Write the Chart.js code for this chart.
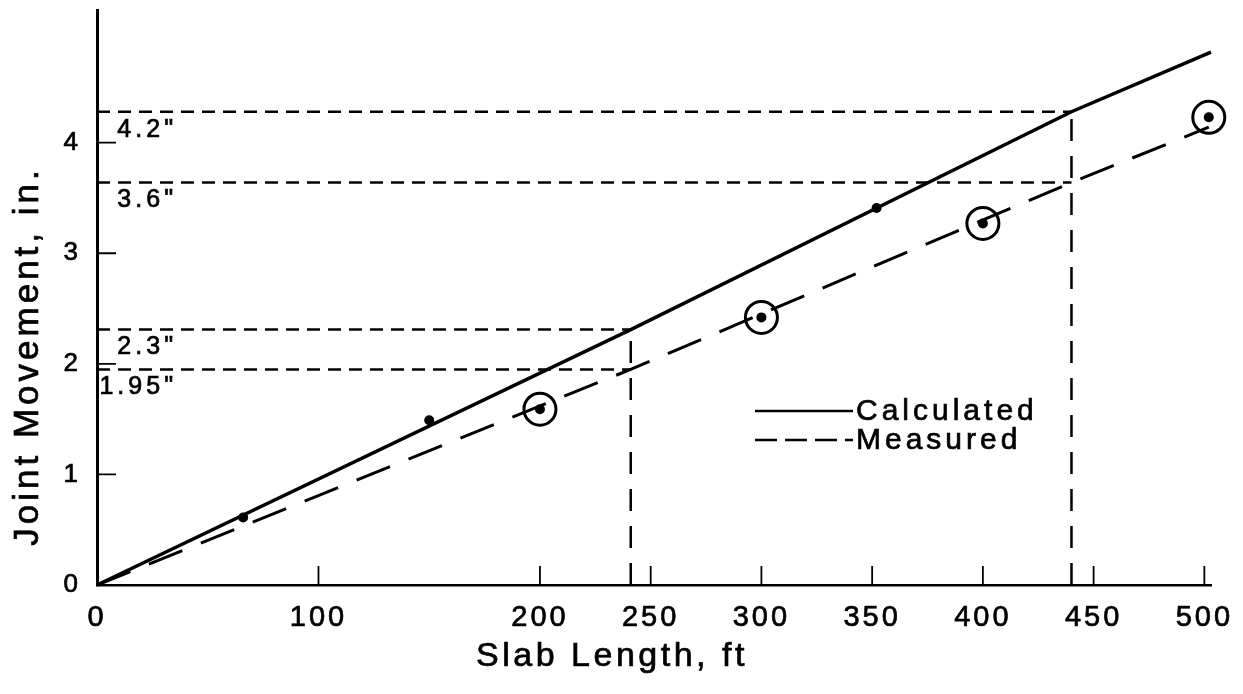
<!DOCTYPE html>
<html>
<head>
<meta charset="utf-8">
<script src="https://cdn.jsdelivr.net/npm/chart.js@4/dist/chart.umd.min.js"></script>
<style>
    html, body { margin: 0; padding: 0; background: #fff; }
</style>
</head>
<body>
<canvas id="jointChart" width="1243" height="694"></canvas>
<script>
const xTicks = [0, 100, 200, 250, 300, 350, 400, 450, 500];
const yTicks = [0, 1, 2, 3, 4];

// lines: slab length (ft) / joint movement (in.)
const calcLength = [0, 241, 440, 503];
const calcMove = [0, 2.31, 4.28, 4.82];
const measLength = [0, 241, 440, 502];
const measMove = [0, 1.95, 3.64, 4.14];

// measured points
const dotLength = [66, 150, 352];
const dotMove = [0.61, 1.49, 3.41];
const ringLength = [200, 300, 400, 502];
const ringMove = [1.59, 2.42, 3.27, 4.23];

// read-off guides
const guideMove = [4.28, 3.64, 2.31, 1.95];
const guideLength = [440, 440, 241, 241];
const guideLabels = ['4.2"', '3.6"', '2.3"', '1.95"'];

const FONT = "'Liberation Sans', Arial, sans-serif";
Chart.defaults.font.family = FONT;
Chart.defaults.color = '#000';

const pts = (xs, ys) => xs.map((v, i) => ({ x: v, y: ys[i] }));

const datasets = [
    {
        label: 'Calculated',
        data: pts(calcLength, calcMove),
        borderColor: '#000', borderWidth: 3.5, pointRadius: 0, clip: false
    },
    {
        label: 'Measured',
        data: pts(measLength, measMove),
        borderColor: '#000', borderWidth: 3, borderDash: [36, 20], pointRadius: 0, clip: false
    },
    {
        label: 'points',
        data: pts(dotLength.concat(ringLength), dotMove.concat(ringMove)),
        showLine: false, pointRadius: 5, pointBackgroundColor: '#000', pointBorderWidth: 0, clip: false
    },
    {
        label: 'rings',
        data: pts(ringLength, ringMove),
        showLine: false, pointRadius: 16, pointBorderColor: '#000', pointBorderWidth: 3,
        pointBackgroundColor: 'rgba(0,0,0,0)', clip: false
    }
];

// horizontal guides (short dashes) and vertical guides (longer dashes)
guideMove.forEach((m, i) => {
    datasets.push({
        label: 'h' + i,
        data: [{ x: 0, y: m }, { x: guideLength[i], y: m }],
        borderColor: '#000', borderWidth: 2.5, borderDash: [13, 8], pointRadius: 0
    });
});
[0, 2].forEach(i => {
    datasets.push({
        label: 'v' + i,
        data: [{ x: guideLength[i], y: 0 }, { x: guideLength[i], y: guideMove[i] }],
        borderColor: '#000', borderWidth: 2.5, borderDash: [22, 15], pointRadius: 0
    });
});

const legendItems = [
    { label: 'Calculated', dash: [] },
    { label: 'Measured', dash: [22, 8] }
];

function heavyText(ctx, text, px, py) {
    ctx.fillText(text, px, py);
    ctx.strokeText(text, px, py);
}

const paperPlugin = {
    id: 'paper',
    beforeLayout(chart) { chart.ctx.letterSpacing = '3px'; },
    beforeDraw(chart) { chart.ctx.letterSpacing = '3px'; },
    afterDraw(chart) {
        const { ctx, chartArea, scales } = chart;
        const x = scales.x, y = scales.y;
        ctx.save();
        ctx.strokeStyle = '#000';
        ctx.fillStyle = '#000';

        // inward tick marks
        ctx.lineWidth = 1.8;
        ctx.setLineDash([]);
        ctx.beginPath();
        x.ticks.forEach(t => {
            if (t.value === 0) return;
            const px = x.getPixelForValue(t.value);
            ctx.moveTo(px, chartArea.bottom);
            ctx.lineTo(px, chartArea.bottom - 19);
        });
        y.ticks.forEach(t => {
            if (t.value === 0) return;
            const py = y.getPixelForValue(t.value);
            ctx.moveTo(chartArea.left, py);
            ctx.lineTo(chartArea.left + 19, py);
        });
        ctx.stroke();

        ctx.lineWidth = 0.7;

        // guide labels
        ctx.letterSpacing = '4px';
        ctx.font = '25px ' + FONT;
        ctx.textAlign = 'right';
        ctx.textBaseline = 'middle';
        guideMove.forEach((m, i) => {
            heavyText(ctx, guideLabels[i], chartArea.left + 80, y.getPixelForValue(m) + 18);
        });

        // legend
        ctx.font = '30px ' + FONT;
        ctx.textAlign = 'left';
        legendItems.forEach((item, i) => {
            const ly = 411 + i * 29;
            ctx.lineWidth = 2.5;
            ctx.setLineDash(item.dash);
            ctx.beginPath();
            ctx.moveTo(755, ly);
            ctx.lineTo(853, ly);
            ctx.stroke();
            ctx.setLineDash([]);
            ctx.lineWidth = 0.7;
            heavyText(ctx, item.label, 856, ly + 1);
        });

        // axis titles
        ctx.letterSpacing = '3.5px';
        ctx.font = '34px ' + FONT;
        ctx.textAlign = 'center';
        heavyText(ctx, 'Slab Length, ft', 612, 657);
        ctx.letterSpacing = '4px';
        ctx.font = '35px ' + FONT;
        ctx.translate(28, 356);
        ctx.rotate(-Math.PI / 2);
        heavyText(ctx, 'Joint Movement, in.', 0, 0);
        ctx.restore();
    }
};

new Chart(document.getElementById('jointChart'), {
    type: 'line',
    data: { datasets: datasets },
    options: {
        responsive: false,
        animation: false,
        events: [],
        layout: { autoPadding: false, padding: { left: 0, top: 10, right: 32, bottom: 0 } },
        plugins: { legend: { display: false }, tooltip: { enabled: false } },
        scales: {
            x: {
                type: 'linear',
                min: 0,
                max: 503,
                grid: { display: false },
                border: { display: true, color: '#000', width: 2.5 },
                afterBuildTicks: s => { s.ticks = xTicks.map(v => ({ value: v })); },
                afterFit: s => { s.height = 109; s.paddingLeft = 0; s.paddingRight = 0; },
                ticks: {
                    font: { size: 29 }, padding: 8, maxRotation: 0, autoSkip: false, color: '#000',
                    textStrokeColor: '#000', textStrokeWidth: 0.7
                }
            },
            y: {
                type: 'linear',
                min: 0,
                max: 5.2,
                grid: { display: false },
                border: { display: true, color: '#000', width: 3 },
                afterBuildTicks: s => { s.ticks = yTicks.map(v => ({ value: v })); },
                afterFit: s => { s.width = 97; s.paddingTop = 0; s.paddingBottom = 0; },
                ticks: {
                    font: { size: 26 }, padding: 8, color: '#000',
                    textStrokeColor: '#000', textStrokeWidth: 0.7
                }
            }
        }
    },
    plugins: [paperPlugin]
});
</script>
</body>
</html>
